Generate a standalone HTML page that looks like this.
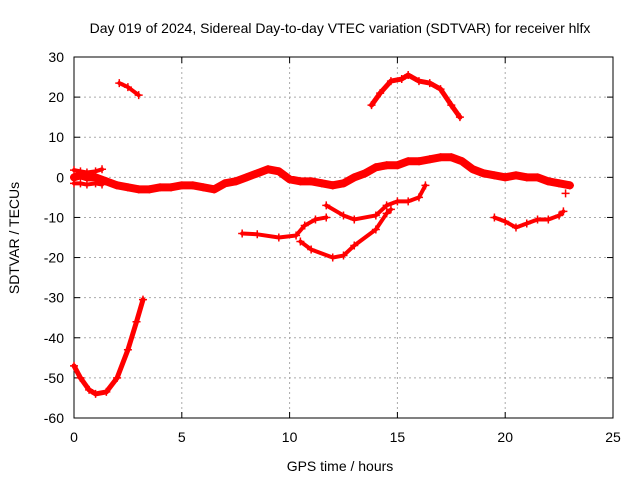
<!DOCTYPE html>
<html><head><meta charset="utf-8"><style>
body{margin:0;background:#fff}
svg text{font-family:"Liberation Sans",sans-serif;font-size:14px;fill:#000}
</style></head><body>
<svg id="c" width="640" height="480">
<rect x="0" y="0" width="640" height="480" fill="#fff"/>
<g id="grid"></g><g id="axes"></g><g id="series"></g>
<text x="340" y="33" text-anchor="middle">Day 019 of 2024, Sidereal Day-to-day VTEC variation (SDTVAR) for receiver hlfx</text>
<text x="340" y="471" text-anchor="middle">GPS time / hours</text>
<text transform="translate(19,238) rotate(-90)" text-anchor="middle">SDTVAR / TECUs</text>
</svg>
<script>
const xTicks=[0,5,10,15,20,25];
const yTicks=[30,20,10,0,-10,-20,-30,-40,-50,-60];
const mainT=[0,0.3,0.6,1,1.5,2,2.5,3,3.5,4,4.5,5,5.5,6,6.5,7,7.5,8,8.5,9,9.5,10,10.5,11,11.5,12,12.5,13,13.5,14,14.5,15,15.5,16,16.5,17,17.5,18,18.5,19,19.5,20,20.5,21,21.5,22,22.5,23];
const mainV=[0,0.5,0,0,-1,-2,-2.5,-3,-3,-2.5,-2.5,-2,-2,-2.5,-3,-1.5,-1,0,1,2,1.5,-0.5,-1,-1,-1.5,-2,-1.5,0,1,2.5,3,3,4,4,4.5,5,5,4,2,1,0.5,0,0.5,0,0,-1,-1.5,-2];
const startT=[0,0.3,0.6,1,1.3];
const startLowV=[-1.5,-1.5,-1.8,-1.5,-1.8];
const startHighV=[1.8,1.5,1.2,1.5,2];
const strayT=[22.8];
const strayV=[-4];
const arcT=[2.1,2.5,3.0];
const arcV=[23.5,22.5,20.5];
const humpT=[13.8,14.2,14.7,15.2,15.5,16,16.5,17,17.5,17.9];
const humpV=[18,21,24,24.5,25.5,24,23.5,22,18,15];
const uT=[0,0.3,0.7,1.0,1.5,2,2.5,2.9,3.2];
const uV=[-47,-50,-53,-54,-53.5,-50,-43,-36,-30.5];
const aT=[7.8,8.5,9.5,10.3,10.7,11.2,11.7];
const aV=[-14,-14.2,-15,-14.5,-12,-10.5,-10];
const bT=[10.5,11,12,12.5,13,14,14.5,14.7];
const bV=[-16,-18,-20,-19.5,-17,-13,-9,-8];
const cT=[11.7,12.5,13,14,14.5,15,15.5,16,16.3];
const cV=[-7,-9.5,-10.5,-9.5,-7,-6,-6,-5,-2];
const dT=[19.5,20,20.5,21,21.5,22,22.5,22.7];
const dV=[-10,-11,-12.5,-11.5,-10.5,-10.5,-9.5,-8.5];
const NS="http://www.w3.org/2000/svg";
const X0=74,X1=613,Y0=418,Y1=57;
const sx=t=>X0+(t-0)/25*(X1-X0);
const sy=v=>Y0-(v+60)/90*(Y0-Y1);
function mk(tag,at,par){const e=document.createElementNS(NS,tag);for(const k in at)e.setAttribute(k,at[k]);par.appendChild(e);return e;}
const grid=document.getElementById('grid'),axes=document.getElementById('axes'),ser=document.getElementById('series');
xTicks.forEach(t=>{const x=sx(t);
 if(t>0&&t<25){const l=mk('line',{x1:x,x2:x,y1:Y1,y2:Y0,stroke:'#aaa','stroke-dasharray':'2,3'},grid);}
 const tx=mk('text',{x:x,y:Y0+24,'text-anchor':'middle'},axes);tx.textContent=t;
 
 
 mk('line',{x1:x,x2:x,y1:Y0,y2:Y0-6,stroke:'#000'},axes);mk('line',{x1:x,x2:x,y1:Y1,y2:Y1+6,stroke:'#000'},axes);});
yTicks.forEach(v=>{const y=sy(v);
 if(v>-60&&v<30){const l=mk('line',{x1:X0,x2:X1,y1:y,y2:y,stroke:'#aaa','stroke-dasharray':'2,3'},grid);}
 const tx=mk('text',{x:X0-10,y:y+5,'text-anchor':'end'},axes);tx.textContent=v;
 
 
 mk('line',{x1:X0,x2:X0+6,y1:y,y2:y,stroke:'#000'},axes);mk('line',{x1:X1,x2:X1-6,y1:y,y2:y,stroke:'#000'},axes);});
const fr=mk('rect',{x:X0,y:Y1,width:X1-X0,height:Y0-Y1,fill:'none',stroke:'#000'},axes);


function track(T,V,name,w){
 const p=mk('polyline',{points:T.map((t,i)=>sx(t)+','+sy(V[i])).join(' '),fill:'none',stroke:'#f00','stroke-width':w,'stroke-linejoin':'round','stroke-linecap':'round'},ser);
 
 
 T.forEach((t,i)=>{const x=sx(t),y=sy(V[i]);
  const m=mk('path',{d:`M${x-4},${y}h8M${x},${y-4}v8`,stroke:'#f00','stroke-width':1.5},ser);
  
  });
}
track(mainT,mainV,'main-track',8);
track(startT,startLowV,'start-low-track',4);
track(startT,startHighV,'start-high-track',4);
track(strayT,strayV,'stray-point',1);
track(arcT,arcV,'arc-track',4);
track(humpT,humpV,'hump-track',5);
track(uT,uV,'u-track',5);
track(aT,aV,'track-a',4);
track(bT,bV,'track-b',4);
track(cT,cV,'track-c',4);
track(dT,dV,'track-d',4);
</script>
</body></html>
